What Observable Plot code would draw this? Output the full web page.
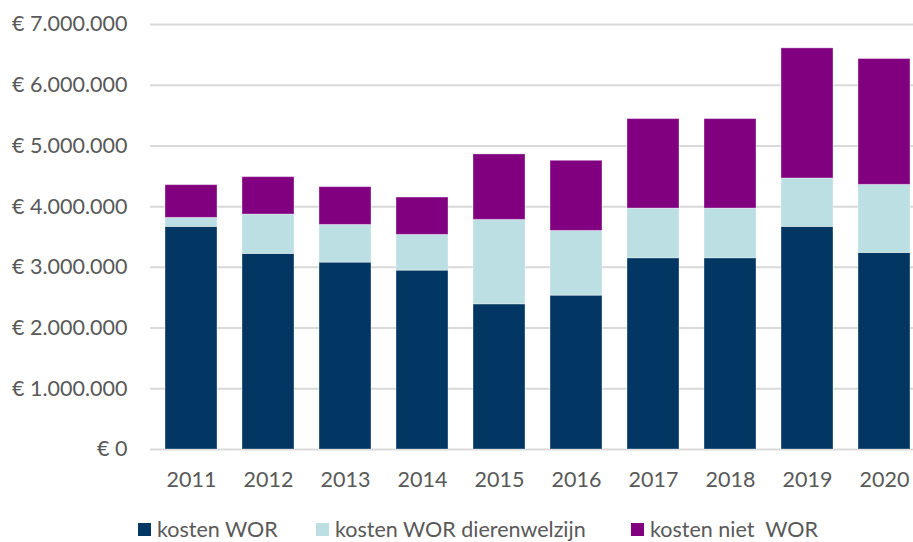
<!DOCTYPE html>
<html>
<head>
<meta charset="utf-8">
<script src="https://cdn.jsdelivr.net/npm/d3@7"></script>
<script src="https://cdn.jsdelivr.net/npm/@observablehq/plot@0.6"></script>
<style>
  html, body { margin: 0; padding: 0; background: #fff; overflow: hidden; }
  body { width: 913px; height: 542px; font-family: Lato, "Open Sans", sans-serif; }
  #chart svg { overflow: visible; }
  #legend { position: relative; height: 42px; font-size: 21.5px; color: #595959; }
  .item { position: absolute; top: 16px; display: flex; align-items: center; white-space: pre; }
  .sw { width: 13px; height: 13px; margin-right: 6px; }
</style>
</head>
<body>
<div id="chart"></div>
<div id="legend"></div>
<script>
const years = ["2011","2012","2013","2014","2015","2016","2017","2018","2019","2020"];
const seriesNames = ["kosten WOR", "kosten WOR dierenwelzijn", "kosten niet  WOR"];
const kostenWOR = [3666000, 3221000, 3078000, 2946000, 2391000, 2534000, 3150000, 3150000, 3666000, 3237000];
const kostenDierenwelzijn = [149000, 649000, 621000, 589000, 1391000, 1066000, 819000, 819000, 798000, 1122000];
const kostenNietWOR = [539000, 616000, 622000, 615000, 1078000, 1155000, 1473000, 1473000, 2143000, 2072000];
const yTicks = [0, 1000000, 2000000, 3000000, 4000000, 5000000, 6000000, 7000000];
const colors = ["#023763", "#BBDFE2", "#800080"];

const seriesValues = [kostenWOR, kostenDierenwelzijn, kostenNietWOR];
const data = [];
seriesNames.forEach((s, si) => years.forEach((y, i) => data.push({year: y, series: s, value: seriesValues[si][i]})));

const nf = d3.formatLocale({decimal: ",", thousands: ".", grouping: [3], currency: ["€ ", ""]}).format(",.0f");

const chart = Plot.plot({
  width: 913,
  height: 500,
  marginLeft: 150,
  marginRight: -11,
  marginTop: 24,
  marginBottom: 51,
  style: {fontFamily: "Lato, 'Open Sans', sans-serif", fontSize: "21.5px", color: "#595959", background: "transparent"},
  x: {domain: years, paddingInner: 0.33, paddingOuter: 0.165, label: null},
  y: {domain: [0, 7000000], label: null},
  color: {domain: seriesNames, range: colors},
  marks: [
    Plot.ruleY(yTicks, {stroke: "#d9d9d9", strokeWidth: 2}),
    Plot.barY(data, {x: "year", y: "value", fill: "series", order: seriesNames, stroke: "white", strokeOpacity: 0.35, strokeWidth: 1}),
    Plot.axisY({ticks: yTicks, tickSize: 0, tickPadding: 23, tickFormat: d => "€ " + nf(d), label: null, fill: "#595959"}),
    Plot.axisX({tickSize: 0, tickPadding: 22, label: null, fill: "#595959"})
  ]
});
document.getElementById("chart").appendChild(chart);

const legend = document.getElementById("legend");
const lefts = [138, 316, 631];
seriesNames.forEach((s, i) => {
  const it = document.createElement("div");
  it.className = "item";
  it.style.left = lefts[i] + "px";
  const sw = document.createElement("span");
  sw.className = "sw";
  sw.style.background = colors[i];
  const t = document.createElement("span");
  t.textContent = s;
  it.appendChild(sw); it.appendChild(t);
  legend.appendChild(it);
});
</script>
</body>
</html>
